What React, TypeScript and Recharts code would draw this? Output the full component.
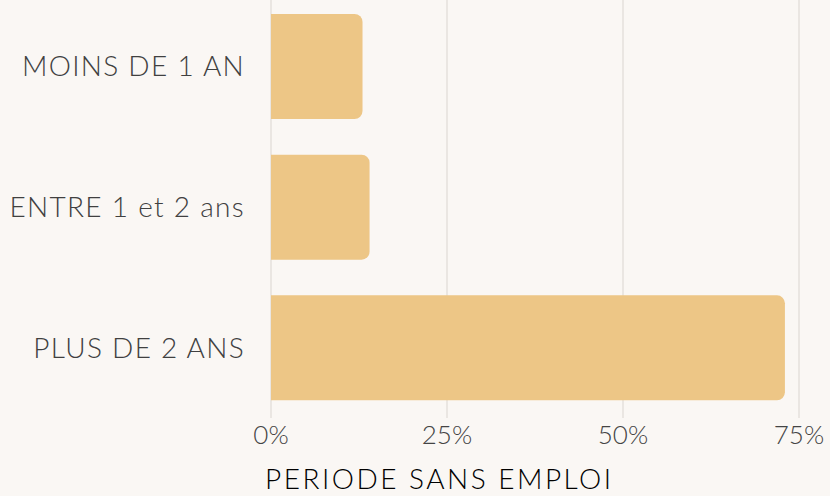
import React from 'react';
import { BarChart, Bar, XAxis, YAxis, CartesianGrid } from 'recharts';

const categories = ['MOINS DE 1 AN', 'ENTRE 1 et 2 ans', 'PLUS DE 2 ANS'];
const values = [13, 14, 73];
const xTicks = [0, 25, 50, 75];

const data = categories.map((name, i) => ({ name, value: values[i] }));

const App: React.FC = () => {
  return (
    <div
      style={{
        position: 'absolute',
        left: 0,
        top: 0,
        width: 830,
        height: 496,
        background: '#FAF7F4',
        fontFamily: 'Lato, sans-serif',
        overflow: 'hidden',
      }}
    >
      <BarChart
        width={830}
        height={496}
        data={data}
        layout="vertical"
        margin={{ top: -4, right: 31, bottom: 38, left: 0 }}
      >
        <CartesianGrid horizontal={false} stroke="#E4E0DC" strokeWidth={1.5} />
        <XAxis
          type="number"
          domain={[0, 75]}
          ticks={xTicks}
          tickFormatter={(v) => `${v}%`}
          axisLine={false}
          tickLine={false}
          height={40}
          tick={{ fill: '#444444', fontSize: 26, fontWeight: 300 }}
        />
        <YAxis
          type="category"
          dataKey="name"
          width={271}
          axisLine={false}
          tickLine={false}
          tickMargin={20}
          tick={{ fill: '#404040', fontSize: 28, fontWeight: 300, letterSpacing: 1.3 }}
        />
        <Bar dataKey="value" fill="#EDC686" barSize={105} radius={[0, 8, 8, 0]} isAnimationActive={false} />
      </BarChart>
      <div
        style={{
          position: 'absolute',
          left: 265,
          top: 461,
          fontSize: 28,
          fontWeight: 300,
          color: '#000',
          letterSpacing: 2.5,
          whiteSpace: 'nowrap',
        }}
      >
        PERIODE SANS EMPLOI
      </div>
    </div>
  );
};

export default App;
